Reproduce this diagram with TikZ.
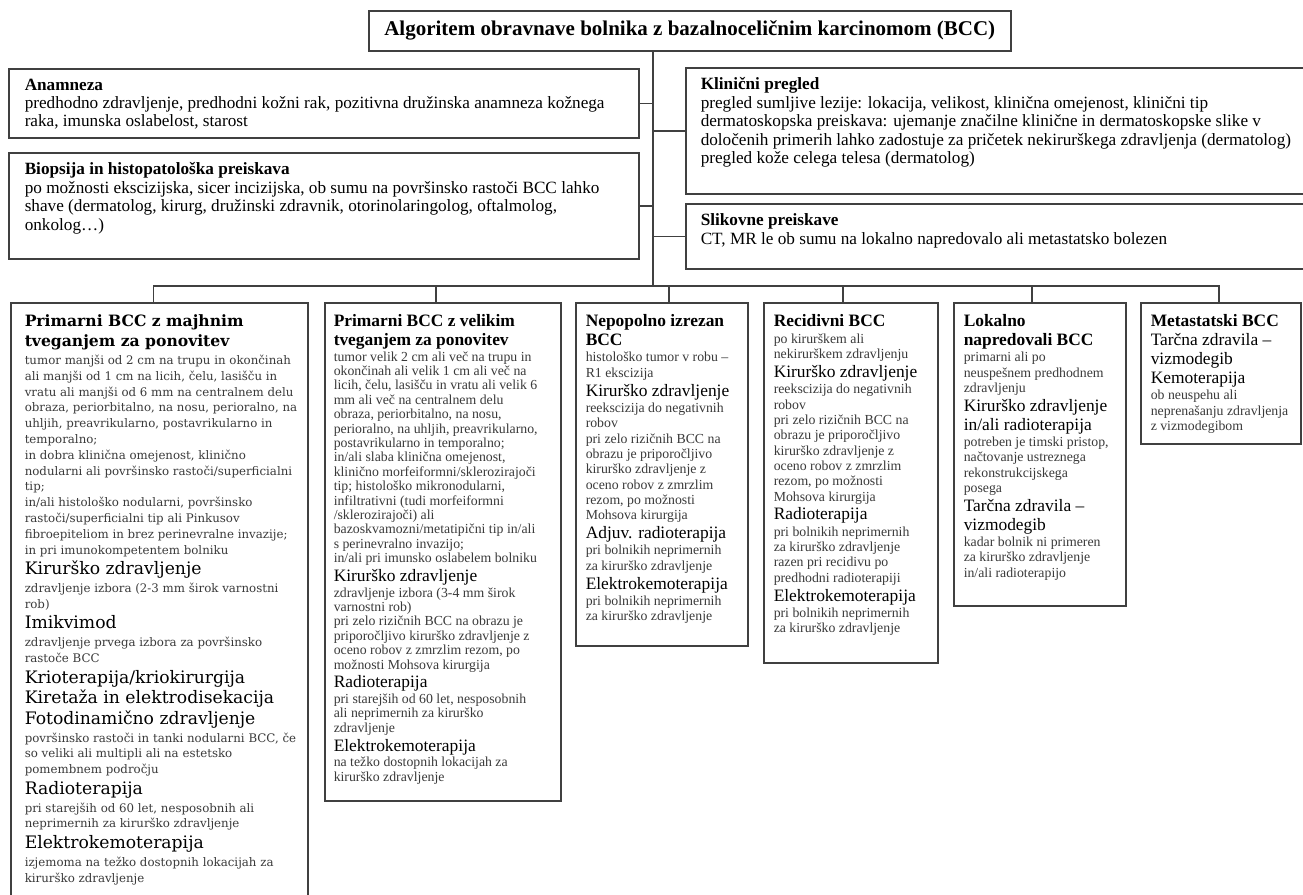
\documentclass[tikz,border=0pt]{standalone}
\usepackage{fontspec}
\setmainfont{Liberation Serif}
\newfontfamily\cambria{DejaVu Serif}

\definecolor{linegray}{HTML}{404040}
\definecolor{smallgray}{HTML}{3A3A3A}

% box text: width, height, left pad, top pad, content
\newcommand\boxtext[5]{\parbox[t][#2][t]{#1}{\raggedright\leftskip=#3\relax\vspace*{#4}#5}}

% top boxes
\newcommand\toph[1]{{\fontsize{8.6}{9.2}\selectfont\bfseries #1\par}}
\newcommand\topt[1]{{\fontsize{8.6}{9.2}\selectfont #1\par}}
% bottom boxes
\newcommand\smlskip{7.65}
\newcommand\ttl[1]{{\fontsize{8.7}{9.3}\selectfont\bfseries #1\par}}
\newcommand\hdg[1]{{\fontsize{8.7}{9.4}\selectfont #1\par}}
\newcommand\sml[1]{{\fontsize{6.9}{\smlskip}\selectfont\vskip0.6pt\leavevmode\color{smallgray}#1\par}}
% first bottom box
\newcommand\cttl[1]{{\cambria\fontsize{7.8}{10}\selectfont\bfseries #1\par}}
\newcommand\chdg[1]{{\cambria\fontsize{8.6}{10.3}\selectfont #1\par}}
\newcommand\csml[1]{{\cambria\fontsize{5.9}{7.9}\selectfont\vskip1pt\leavevmode\color{smallgray}#1\par}}

\begin{document}
\begin{tikzpicture}[x=0.5pt, y=-0.5pt,
  cell/.style={draw=linegray, line width=0.75pt, anchor=north west, inner sep=0pt, fill=white},
  link/.style={draw=linegray, line width=0.75pt}]

% Fix the page to the picture size
\useasboundingbox (0,0) rectangle (1303,895);
\clip (0,0) rectangle (1303,895);

% Title
\node[cell, minimum width=321pt, minimum height=20pt,
  font=\fontsize{10.5}{12}\selectfont\bfseries] (title) at (368,10)
  {Algoritem obravnave bolnika z bazalnoceličnim karcinomom (BCC)};

% Diagnostics, left column
\node[cell] (anam) at (8,68) {\boxtext{315pt}{34.5pt}{8pt}{5pt}{%
  \toph{Anamneza}
  \topt{predhodno zdravljenje, predhodni kožni rak, pozitivna družinska anamneza kožnega\\
  raka, imunska oslabelost, starost}}};
\node[cell] (biop) at (8,152) {\boxtext{315pt}{53pt}{8pt}{5pt}{%
  \toph{Biopsija in histopatološka preiskava}
  \topt{po možnosti ekscizijska, sicer incizijska, ob sumu na površinsko rastoči BCC lahko\\
  shave (dermatolog, kirurg, družinski zdravnik, otorinolaringolog, oftalmolog,\\
  onkolog…)}}};

% Diagnostics, right column
\node[cell] (klin) at (685,67) {\boxtext{312.5pt}{63pt}{7.5pt}{5pt}{%
  \toph{Klinični pregled}
  \topt{pregled sumljive lezije: lokacija, velikost, klinična omejenost, klinični tip\\
  dermatoskopska preiskava: ujemanje značilne klinične in dermatoskopske slike v\\
  določenih primerih lahko zadostuje za pričetek nekirurškega zdravljenja (dermatolog)\\
  pregled kože celega telesa (dermatolog)}}};
\node[cell] (slik) at (685,203) {\boxtext{312.5pt}{32.5pt}{7.5pt}{5pt}{%
  \toph{Slikovne preiskave}
  \topt{CT, MR le ob sumu na lokalno napredovalo ali metastatsko bolezen}}};

% Treatment boxes
\node[cell] (b1) at (10,302) {\boxtext{148.5pt}{301.5pt}{7pt}{6pt}{%
  \cttl{Primarni BCC z majhnim\\tveganjem za ponovitev}
  \csml{tumor manjši od 2 cm na trupu in okončinah\\
  ali manjši od 1 cm na licih, čelu, lasišču in\\
  vratu ali manjši od 6 mm na centralnem delu\\
  obraza, periorbitalno, na nosu, perioralno, na\\
  uhljih, preavrikularno, postavrikularno in\\
  temporalno;\\
  in dobra klinična omejenost, klinično\\
  nodularni ali površinsko rastoči/superficialni\\
  tip;\\
  in/ali histološko nodularni, površinsko\\
  rastoči/superficialni tip ali Pinkusov\\
  fibroepiteliom in brez perinevralne invazije;\\
  in pri imunokompetentem bolniku}
  \chdg{Kirurško zdravljenje}
  \csml{zdravljenje izbora (2-3 mm širok varnostni\\rob)}
  \chdg{Imikvimod}
  \csml{zdravljenje prvega izbora za površinsko\\rastoče BCC}
  \chdg{Krioterapija/kriokirurgija}
  \chdg{Kiretaža in elektrodisekacija}
  \chdg{Fotodinamično zdravljenje}
  \csml{površinsko rastoči in tanki nodularni BCC, če\\
  so veliki ali multipli ali na estetsko\\
  pomembnem področju}
  \chdg{Radioterapija}
  \csml{pri starejših od 60 let, nesposobnih ali\\
  neprimernih za kirurško zdravljenje}
  \chdg{Elektrokemoterapija}
  \csml{izjemoma na težko dostopnih lokacijah za\\
  kirurško zdravljenje}}};

\node[cell] (b2) at (324,302) {\renewcommand\smlskip{7.2}\boxtext{118pt}{249pt}{4.5pt}{6pt}{%
  \ttl{Primarni BCC z velikim\\tveganjem za ponovitev}
  \sml{tumor velik 2 cm ali več na trupu in\\
  okončinah ali velik 1 cm ali več na\\
  licih, čelu, lasišču in vratu ali velik 6\\
  mm ali več na centralnem delu\\
  obraza, periorbitalno, na nosu,\\
  perioralno, na uhljih, preavrikularno,\\
  postavrikularno in temporalno;\\
  in/ali slaba klinična omejenost,\\
  klinično morfeiformni/sklerozirajoči\\
  tip; histološko mikronodularni,\\
  infiltrativni (tudi morfeiformni\\
  /sklerozirajoči) ali\\
  bazoskvamozni/metatipični tip in/ali\\
  s perinevralno invazijo;\\
  in/ali pri imunsko oslabelem bolniku}
  \hdg{Kirurško zdravljenje}
  \sml{zdravljenje izbora (3-4 mm širok\\
  varnostni rob)\\
  pri zelo rizičnih BCC na obrazu je\\
  priporočljivo kirurško zdravljenje z\\
  oceno robov z zmrzlim rezom, po\\
  možnosti Mohsova kirurgija}
  \hdg{Radioterapija}
  \sml{pri starejših od 60 let, nesposobnih\\
  ali neprimernih za kirurško\\
  zdravljenje}
  \hdg{Elektrokemoterapija}
  \sml{na težko dostopnih lokacijah za\\
  kirurško zdravljenje}}};

\node[cell] (b3) at (575,302) {\boxtext{86pt}{171.5pt}{5pt}{6pt}{%
  \ttl{Nepopolno izrezan\\BCC}
  \sml{histološko tumor v robu –\\R1 ekscizija}
  \hdg{Kirurško zdravljenje}
  \sml{reekscizija do negativnih\\
  robov\\
  pri zelo rizičnih BCC na\\
  obrazu je priporočljivo\\
  kirurško zdravljenje z\\
  oceno robov z zmrzlim\\
  rezom, po možnosti\\
  Mohsova kirurgija}
  \hdg{Adjuv. radioterapija}
  \sml{pri bolnikih neprimernih\\za kirurško zdravljenje}
  \hdg{Elektrokemoterapija}
  \sml{pri bolnikih neprimernih\\za kirurško zdravljenje}}};

\node[cell] (b4) at (763,302) {\boxtext{87pt}{180pt}{5pt}{6pt}{%
  \ttl{Recidivni BCC}
  \sml{po kirurškem ali\\nekirurškem zdravljenju}
  \hdg{Kirurško zdravljenje}
  \sml{reekscizija do negativnih\\
  robov\\
  pri zelo rizičnih BCC na\\
  obrazu je priporočljivo\\
  kirurško zdravljenje z\\
  oceno robov z zmrzlim\\
  rezom, po možnosti\\
  Mohsova kirurgija}
  \hdg{Radioterapija}
  \sml{pri bolnikih neprimernih\\
  za kirurško zdravljenje\\
  razen pri recidivu po\\
  predhodni radioterapiji}
  \hdg{Elektrokemoterapija}
  \sml{pri bolnikih neprimernih\\za kirurško zdravljenje}}};

\node[cell] (b5) at (953,302) {\boxtext{86pt}{151.5pt}{5pt}{6pt}{%
  \ttl{Lokalno\\napredovali BCC}
  \sml{primarni ali po\\
  neuspešnem predhodnem\\
  zdravljenju}
  \hdg{Kirurško zdravljenje\\in/ali radioterapija}
  \sml{potreben je timski pristop,\\
  načtovanje ustreznega\\
  rekonstrukcijskega\\
  posega}
  \hdg{Tarčna zdravila –\\vizmodegib}
  \sml{kadar bolnik ni primeren\\
  za kirurško zdravljenje\\
  in/ali radioterapijo}}};

\node[cell] (b6) at (1140,302) {\boxtext{80pt}{70.5pt}{5pt}{6pt}{%
  \ttl{Metastatski BCC}
  \hdg{Tarčna zdravila –\\vizmodegib}
  \hdg{Kemoterapija}
  \sml{ob neuspehu ali\\
  neprenašanju zdravljenja\\
  z vizmodegibom}}};

% Connectors
\coordinate (trunkx) at (653,0);
\coordinate (bus) at (653,286);
\draw[link] (title.south -| trunkx) -- (bus);
\foreach \n in {anam,biop}
  \draw[link] (\n.east) -- (\n.east -| trunkx);
\foreach \n in {klin,slik}
  \draw[link] (\n.west) -- (\n.west -| trunkx);
\draw[link] ([xshift=-3pt]b1.north) -- ([xshift=-3pt]b1.north |- bus)
  -- ([xshift=-1pt]b6.north |- bus) -- ([xshift=-1pt]b6.north);
\foreach \n/\dx in {b2/-3.5,b3/3.5,b4/-4,b5/-4}
  \draw[link] ([xshift=\dx pt]\n.north) -- ([xshift=\dx pt]\n.north |- bus);

\end{tikzpicture}
\end{document}
